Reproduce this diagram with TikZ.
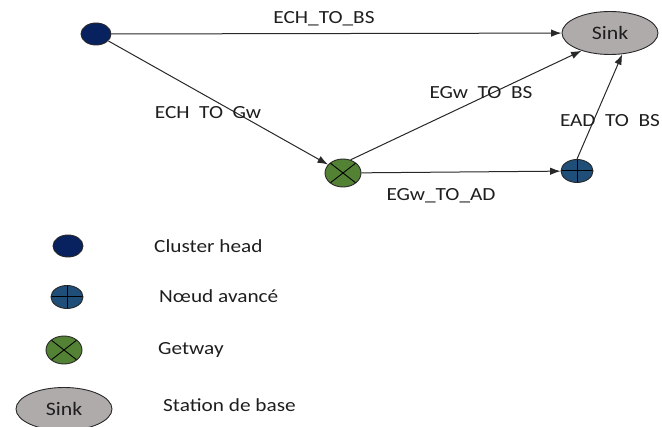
\documentclass[tikz,border=0pt]{standalone}
\usepackage{fontspec}
\setmainfont[FakeStretch=1.15]{Carlito}
\usetikzlibrary{shapes.geometric,arrows.meta}
\definecolor{chblue}{RGB}{8,34,96}
\definecolor{anblue}{RGB}{31,78,121}
\definecolor{gwgreen}{RGB}{84,130,53}
\definecolor{sinkgray}{RGB}{175,171,171}
\definecolor{edgegray}{RGB}{40,40,40}
\definecolor{txt}{RGB}{30,30,30}
\tikzset{
  ch/.style={ellipse,draw=edgegray,fill=chblue,line width=0.9pt,inner sep=0pt,minimum width=30pt,minimum height=22pt},
  an/.style={ellipse,draw=edgegray,fill=anblue,line width=0.9pt,inner sep=0pt,minimum width=32pt,minimum height=23pt,
    path picture={\draw[line width=1pt,black] (path picture bounding box.north) -- (path picture bounding box.south)
      (path picture bounding box.west) -- (path picture bounding box.east);}},
  gw/.style={ellipse,draw=edgegray,fill=gwgreen,line width=0.9pt,inner sep=0pt,minimum width=36pt,minimum height=28pt,
    path picture={\draw[line width=0.9pt,black] (path picture bounding box.north west) -- (path picture bounding box.south east)
      (path picture bounding box.north east) -- (path picture bounding box.south west);}},
  sink/.style={ellipse,draw=edgegray,fill=sinkgray,line width=0.9pt,inner sep=0pt,minimum width=96pt,minimum height=43pt,
    font=\fontsize{19}{22}\selectfont,text=txt},
  lab/.style={font=\fontsize{18.5}{22}\selectfont,text=txt,inner sep=0pt},
  legtext/.style={font=\fontsize{18.5}{22}\selectfont,text=txt,inner sep=0pt,anchor=west},
  conn/.style={draw=edgegray,line width=1pt,-{Latex[length=10.5pt,width=7.5pt]}},
}
\begin{document}
\begin{tikzpicture}[x=1pt,y=-1pt]
\useasboundingbox (0,0) rectangle (662,427);
% main diagram
\node[ch] (chm) at (96,34) {};
\node[sink] (sinkm) at (610,33) {Sink};
\node[gw] (gwm) at (343,173) {};
\node[an] (anm) at (577,171) {};
\draw[conn] (chm) -- (sinkm);
\draw[conn] (chm) -- (gwm);
\draw[conn] (gwm.60) -- (sinkm.-148);
\draw[conn] (gwm) -- (anm);
\draw[conn] (anm.north) -- (sinkm.-60);
\node[lab] (l1) at (324,19) {ECH\_TO\_BS};
\node[lab] (l2) at (208,113) {ECH\ \ TO\ \ Gw};
\node[lab] (l3) at (481,93) {EGw\ \ TO\ \ BS};
\node[lab] (l4) at (610,121) {EAD\ \ TO\ \ BS};
\node[lab] (l5) at (441,196) {EGw\_TO\_AD};
% legend
\node[ch] (chl) at (68,246) {};
\node[an] (anl) at (67,297) {};
\node[gw] (gwl) at (64,350) {};
\node[sink] (sinkl) at (64,409) {Sink};
\node[legtext] (t1) at (154,246) {Cluster head};
\node[legtext] (t2) at (159,296) {Nœud avancé};
\node[legtext] (t3) at (158,350) {Getway};
\node[legtext] (t4) at (163,405) {Station de base};
\end{tikzpicture}
\end{document}
